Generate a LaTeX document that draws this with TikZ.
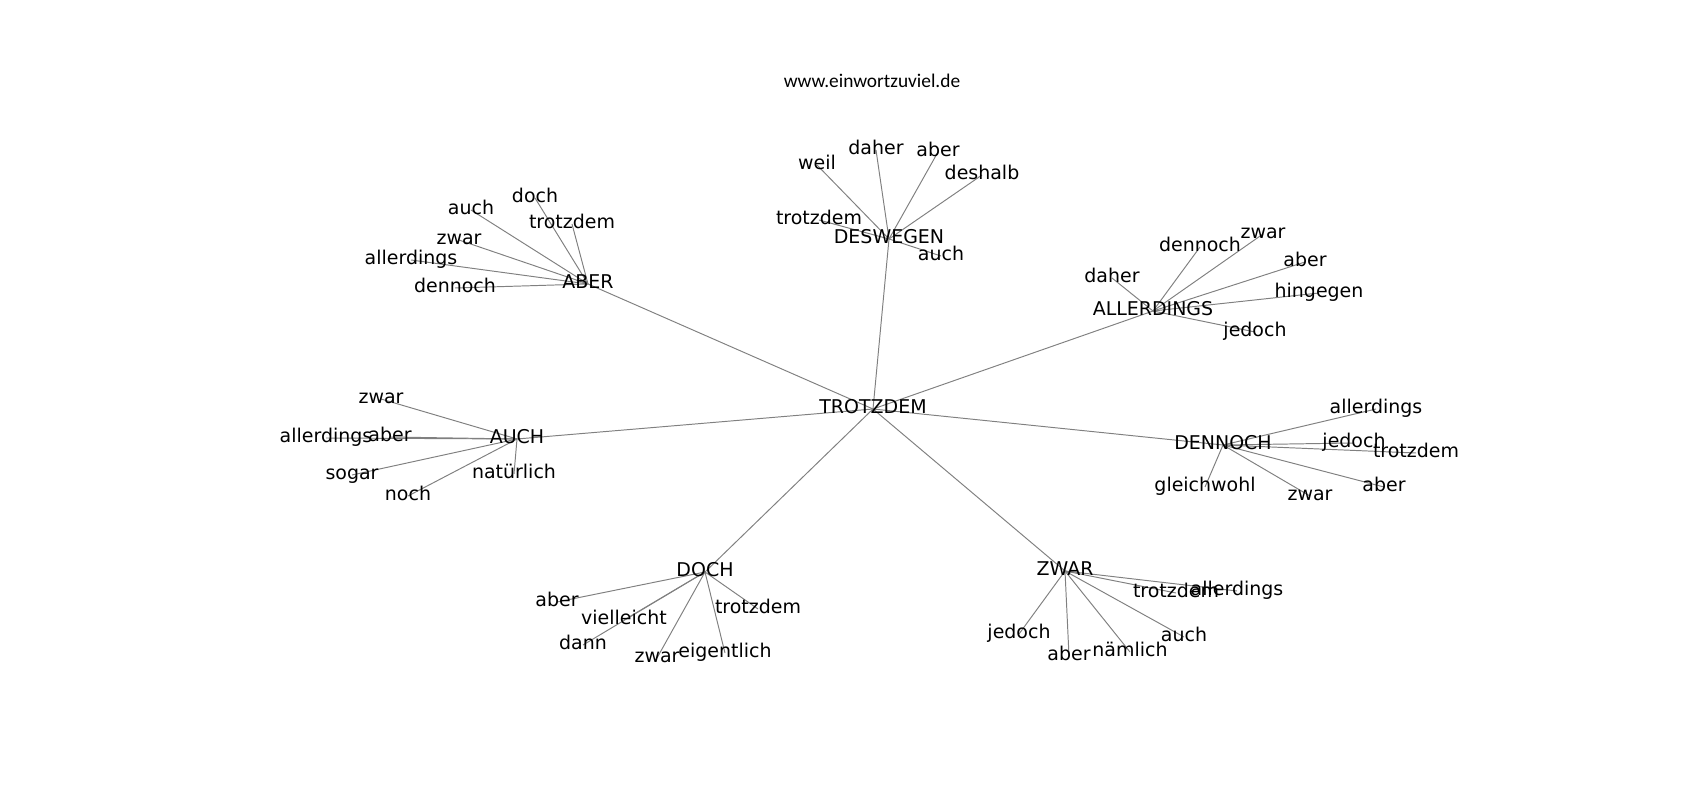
\documentclass[tikz,border=0pt]{standalone}
\usepackage{fontspec}
\setmainfont{DejaVu Sans}
\newfontfamily\sitefont{Carlito}
\usepackage{tikz}
\usetikzlibrary{backgrounds}

\begin{document}
\begin{tikzpicture}[
    x=0.01in,
    y=-0.01in,
    font=\fontsize{13.7}{16}\selectfont,
    word/.style={
		inner sep=0pt,
		text height=0.144in,
		text depth=0.046in,
		anchor=center
	},
	hub/.style={
		word
	},
	edge/.style={
		draw=gray,
		line width=0.7pt
	},
	site/.style={
		font=\sitefont\fontsize{14}{16}\selectfont,
		anchor=base
	}
  ]

\useasboundingbox (0,0) rectangle (1700,800);

\node [site] (site) at (872,88) {www.einwortzuviel.de};

% // the centre
\node [hub] (trotzdem) at (873,409) {TROTZDEM};

% // the hubs
\node [hub] (aber)       at (588,284)  {ABER};
\node [hub] (deswegen)   at (889,239)  {DESWEGEN};
\node [hub] (allerdings) at (1153,311) {ALLERDINGS};
\node [hub] (dennoch)    at (1223,445) {DENNOCH};
\node [hub] (auch)       at (517,439)  {AUCH};
\node [hub] (doch)       at (705,572)  {DOCH};
\node [hub] (zwar)       at (1065,571) {ZWAR};

% ABER
\node [word] (aber1) at (471,210) {auch};
\node [word] (aber2) at (535,198) {doch};
\node [word] (aber3) at (572,224) {trotzdem};
\node [word] (aber4) at (459,240) {zwar};
\node [word] (aber5) at (411,260) {allerdings};
\node [word] (aber6) at (455,288) {dennoch};

% DESWEGEN
\node [word] (deswegen1) at (817,165) {weil};
\node [word] (deswegen2) at (876,150) {daher};
\node [word] (deswegen3) at (938,152) {aber};
\node [word] (deswegen4) at (982,175) {deshalb};
\node [word] (deswegen5) at (819,220) {trotzdem};
\node [word] (deswegen6) at (941,256) {auch};

% ALLERDINGS
\node [word] (allerdings1) at (1112,278) {daher};
\node [word] (allerdings2) at (1200,247) {dennoch};
\node [word] (allerdings3) at (1263,234) {zwar};
\node [word] (allerdings4) at (1305,262) {aber};
\node [word] (allerdings5) at (1319,293) {hingegen};
\node [word] (allerdings6) at (1255,332) {jedoch};

% DENNOCH
\node [word] (dennoch1) at (1376,409) {allerdings};
\node [word] (dennoch2) at (1354,443) {jedoch};
\node [word] (dennoch3) at (1416,453) {trotzdem};
\node [word] (dennoch4) at (1205,487) {gleichwohl};
\node [word] (dennoch5) at (1310,496) {zwar};
\node [word] (dennoch6) at (1384,487) {aber};

% AUCH
\node [word] (auch1) at (381,399) {zwar};
\node [word] (auch2) at (326,438) {allerdings};
\node [word] (auch3) at (390,437) {aber};
\node [word] (auch4) at (352,475) {sogar};
\node [word] (auch5) at (514,474) {natürlich};
\node [word] (auch6) at (408,496) {noch};

% DOCH
\node [word] (doch1) at (557,602) {aber};
\node [word] (doch2) at (624,620) {vielleicht};
\node [word] (doch3) at (758,609) {trotzdem};
\node [word] (doch4) at (583,645) {dann};
\node [word] (doch5) at (657,658) {zwar};
\node [word] (doch6) at (725,653) {eigentlich};

% ZWAR
\node [word] (zwar1) at (1176,593) {trotzdem};
\node [word] (zwar2) at (1237,591) {allerdings};
\node [word] (zwar3) at (1019,634) {jedoch};
\node [word] (zwar4) at (1069,656) {aber};
\node [word] (zwar5) at (1130,652) {nämlich};
\node [word] (zwar6) at (1184,637) {auch};

% // the edges, behind the words
\begin{scope}[on background layer]
 \draw [edge] (trotzdem.center) -- (aber.center);
 \draw [edge] (trotzdem.center) -- (deswegen.center);
 \draw [edge] (trotzdem.center) -- (allerdings.center);
 \draw [edge] (trotzdem.center) -- (dennoch.center);
 \draw [edge] (trotzdem.center) -- (auch.center);
 \draw [edge] (trotzdem.center) -- (doch.center);
 \draw [edge] (trotzdem.center) -- (zwar.center);

 \draw [edge] (aber.center) -- (aber1.center);
 \draw [edge] (aber.center) -- (aber2.center);
 \draw [edge] (aber.center) -- (aber3.center);
 \draw [edge] (aber.center) -- (aber4.center);
 \draw [edge] (aber.center) -- (aber5.center);
 \draw [edge] (aber.center) -- (aber6.center);

 \draw [edge] (deswegen.center) -- (deswegen1.center);
 \draw [edge] (deswegen.center) -- (deswegen2.center);
 \draw [edge] (deswegen.center) -- (deswegen3.center);
 \draw [edge] (deswegen.center) -- (deswegen4.center);
 \draw [edge] (deswegen.center) -- (deswegen5.center);
 \draw [edge] (deswegen.center) -- (deswegen6.center);

 \draw [edge] (allerdings.center) -- (allerdings1.center);
 \draw [edge] (allerdings.center) -- (allerdings2.center);
 \draw [edge] (allerdings.center) -- (allerdings3.center);
 \draw [edge] (allerdings.center) -- (allerdings4.center);
 \draw [edge] (allerdings.center) -- (allerdings5.center);
 \draw [edge] (allerdings.center) -- (allerdings6.center);

 \draw [edge] (dennoch.center) -- (dennoch1.center);
 \draw [edge] (dennoch.center) -- (dennoch2.center);
 \draw [edge] (dennoch.center) -- (dennoch3.center);
 \draw [edge] (dennoch.center) -- (dennoch4.center);
 \draw [edge] (dennoch.center) -- (dennoch5.center);
 \draw [edge] (dennoch.center) -- (dennoch6.center);

 \draw [edge] (auch.center) -- (auch1.center);
 \draw [edge] (auch.center) -- (auch2.center);
 \draw [edge] (auch.center) -- (auch3.center);
 \draw [edge] (auch.center) -- (auch4.center);
 \draw [edge] (auch.center) -- (auch5.center);
 \draw [edge] (auch.center) -- (auch6.center);

 \draw [edge] (doch.center) -- (doch1.center);
 \draw [edge] (doch.center) -- (doch2.center);
 \draw [edge] (doch.center) -- (doch3.center);
 \draw [edge] (doch.center) -- (doch4.center);
 \draw [edge] (doch.center) -- (doch5.center);
 \draw [edge] (doch.center) -- (doch6.center);

 \draw [edge] (zwar.center) -- (zwar1.center);
 \draw [edge] (zwar.center) -- (zwar2.center);
 \draw [edge] (zwar.center) -- (zwar3.center);
 \draw [edge] (zwar.center) -- (zwar4.center);
 \draw [edge] (zwar.center) -- (zwar5.center);
 \draw [edge] (zwar.center) -- (zwar6.center);
\end{scope}

\end{tikzpicture}
\end{document}
